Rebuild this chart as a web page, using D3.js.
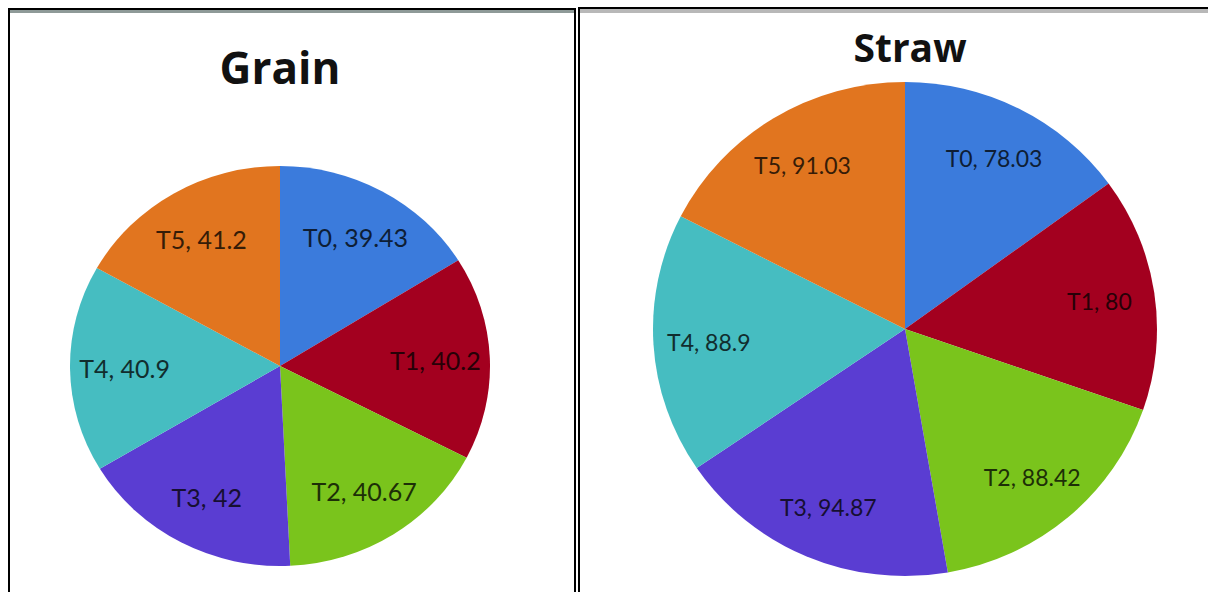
<!DOCTYPE html>
<html>
<head>
<meta charset="utf-8">
<script src="https://cdn.jsdelivr.net/npm/d3@7"></script>
<style>
    body { margin: 0; background: #fff; }
    .pie-label { font-family: "Lato", "Open Sans", sans-serif; text-anchor: middle; dominant-baseline: middle; }
    .pie-title { font-family: "Open Sans", sans-serif; font-weight: 700; text-anchor: middle; fill: #111; }
</style>
</head>
<body>
<div id="chart"></div>
<script>
const treatments = ["T0", "T1", "T2", "T3", "T4", "T5"];
const grainValues = [39.43, 40.2, 40.67, 42, 40.9, 41.2];
const strawValues = [78.03, 80, 88.42, 94.87, 88.9, 91.03];
const sliceColors = ["#3b7bdc", "#a3001f", "#7ac41c", "#5a3dd2", "#46bdc1", "#e1751f"];

const width = 1208;
const height = 592;

const svg = d3.select("#chart").append("svg")
    .attr("width", width)
    .attr("height", height);

svg.append("rect").attr("width", width).attr("height", height).attr("fill", "#fff");

// panel frames
function drawFrame(x0, y0, x1, bandColor, bandHeight) {
    svg.append("rect")
        .attr("x", x0 + 2).attr("y", y0 + 2)
        .attr("width", x1 - x0 - 4).attr("height", bandHeight)
        .attr("fill", bandColor);
    svg.append("path")
        .attr("d", `M${x0 + 1},${height + 5} V${y0 + 1} H${x1 - 1} V${height + 5}`)
        .attr("fill", "none")
        .attr("stroke", "#000")
        .attr("stroke-width", 2);
}
drawFrame(8, 8, 576, "#8e9a98", 3);
drawFrame(578, 7, 1240, "#b8b8b8", 4);

const colors = d3.scaleOrdinal().domain(treatments).range(sliceColors);

function renderPie(values, title, opts) {
    const pie = d3.pie().sort(null).value(function (d) { return d[1]; });
    const pieData = pie(treatments.map(function (t, i) { return [t, values[i]]; }));

    const g = svg.append("g")
        .attr("transform", `translate(${opts.cx}, ${opts.cy}) scale(${opts.rx / opts.ry}, 1)`);

    const arc = d3.arc().innerRadius(0).outerRadius(opts.ry);
    const labelArc = d3.arc().innerRadius(opts.ry * opts.labelR).outerRadius(opts.ry * opts.labelR);

    g.selectAll("path")
        .data(pieData)
        .join("path")
        .attr("d", arc)
        .attr("fill", function (d) { return colors(d.data[0]); });

    // labels sit on an inner ring, stretched with the ellipse
    svg.selectAll(null)
        .data(pieData)
        .join("text")
        .attr("class", "pie-label")
        .attr("x", function (d) { return opts.cx + labelArc.centroid(d)[0] * opts.rx / opts.ry; })
        .attr("y", function (d) { return opts.cy + labelArc.centroid(d)[1] + 4; })
        .attr("font-size", opts.labelSize)
        .attr("fill", function (d) { return d3.color(colors(d.data[0])).darker(4); })
        .text(function (d) { return `${d.data[0]}, ${d.data[1]}`; });

    svg.append("text")
        .attr("class", "pie-title")
        .attr("x", opts.titleX)
        .attr("y", opts.titleY)
        .attr("font-size", opts.titleSize)
        .text(title);
}

renderPie(grainValues, "Grain", {
    cx: 280, cy: 366, rx: 210, ry: 200, labelR: 0.74, labelSize: 25,
    titleX: 280, titleY: 84, titleSize: 44
});
renderPie(strawValues, "Straw", {
    cx: 905, cy: 329, rx: 252, ry: 247, labelR: 0.78, labelSize: 23,
    titleX: 910, titleY: 62, titleSize: 39
});
</script>
</body>
</html>
